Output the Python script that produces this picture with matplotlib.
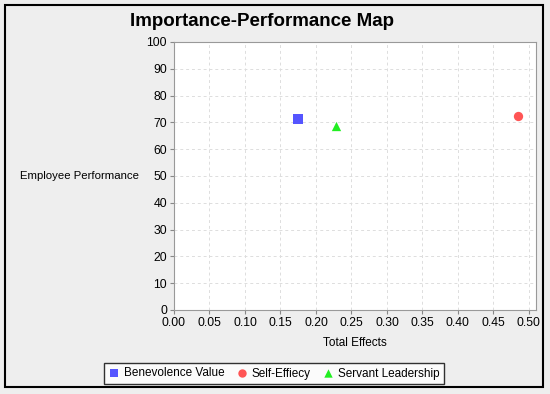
import matplotlib
matplotlib.use("Agg")
import matplotlib.pyplot as plt
from matplotlib.patches import Rectangle

plt.rcParams['font.family'] = ['Liberation Sans', 'DejaVu Sans']

# data
names = ["Benevolence Value", "Self-Effiecy", "Servant Leadership"]
total_effects = [0.174, 0.485, 0.228]
performance = [71.3, 72.4, 68.7]
colors = ["#5555ff", "#ff5555", "#22ee22"]
markers = ["s", "o", "^"]
x_ticks = [0.00, 0.05, 0.10, 0.15, 0.20, 0.25, 0.30, 0.35, 0.40, 0.45, 0.50]
y_ticks = list(range(0, 101, 10))

W, H = 550, 394
fig = plt.figure(figsize=(W / 100, H / 100), dpi=100)
fig.patch.set_facecolor("#eeeeee")

# outer frame
fig.patches.append(Rectangle((5 / W, 1 - 387 / H), 538 / W, 382 / H,
                             transform=fig.transFigure, fill=False,
                             edgecolor="black", linewidth=1.5))

ax = fig.add_axes([174 / W, 1 - 310 / H, 362 / W, 268 / H])
ax.set_facecolor("white")

for x, y, c, m, n in zip(total_effects, performance, colors, markers, names):
    ax.scatter(x, y, color=c, marker=m, s=45, label=n, zorder=3, linewidths=0)

ax.set_xlim(0, 0.51)
ax.set_ylim(0, 100)
ax.set_xticks(x_ticks)
ax.set_xticklabels([f"{t:.2f}" for t in x_ticks])
ax.set_yticks(y_ticks)
ax.tick_params(labelsize=8.8, length=3, color="#888888", pad=2)
ax.grid(True, color="#dddddd", linestyle=(0, (3, 3)), linewidth=0.7)
for s in ax.spines.values():
    s.set_color("#999999")
    s.set_linewidth(0.8)

ax.set_xlabel("Total Effects", fontsize=8.5, labelpad=6)
fig.text(20 / W, 1 - 176 / H, "Employee Performance", fontsize=8.2,
         ha="left", va="center")

fig.text(262 / W, 1 - 22 / H, "Importance-Performance Map", fontsize=13.5,
         fontweight="bold", ha="center", va="center")

leg = fig.legend(loc="center", bbox_to_anchor=(274 / W, 1 - 373.5 / H), ncol=3,
                 fontsize=8.5, frameon=True, fancybox=False, handletextpad=0.3,
                 columnspacing=1.0, borderpad=0.4, handlelength=1.0,
                 markerscale=0.9)
leg.get_frame().set_edgecolor("black")
leg.get_frame().set_linewidth(1.0)

fig.savefig("out.png", dpi=100, facecolor=fig.get_facecolor())
